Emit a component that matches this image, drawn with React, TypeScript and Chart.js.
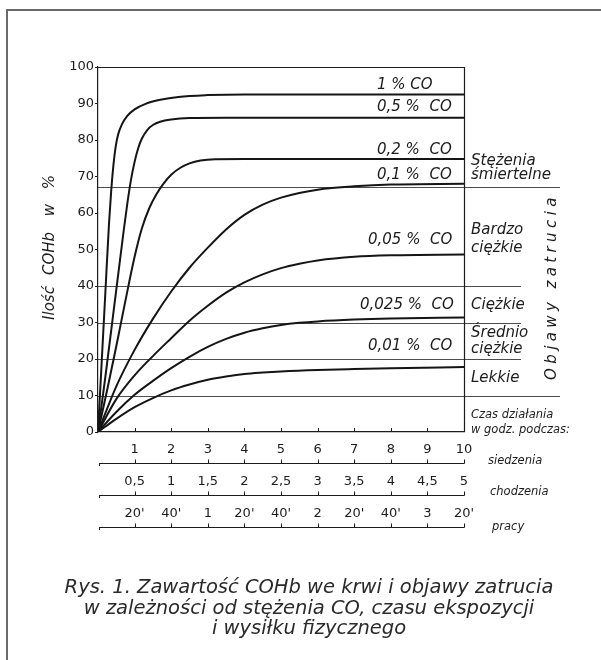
import React, { useEffect, useRef } from "react";
import { Chart, registerables } from "chart.js";

Chart.register(...registerables);

// ---------------- data ----------------
const hourTicks = [1, 2, 3, 4, 5, 6, 7, 8, 9, 10];
const sittingLabels = ["1", "2", "3", "4", "5", "6", "7", "8", "9", "10"];
const walkingLabels = ["0,5", "1", "1,5", "2", "2,5", "3", "3,5", "4", "4,5", "5"];
const workLabels = ["20'", "40'", "1", "20'", "40'", "2", "20'", "40'", "3", "20'"];
const rowNames = ["siedzenia", "chodzenia", "pracy"];
const yTickValues = [0, 10, 20, 30, 40, 50, 60, 70, 80, 90, 100];

const seriesLabels = ["1 % CO", "0,5 %  CO", "0,2 %  CO", "0,1 %  CO", "0,05 %  CO", "0,025 %  CO", "0,01 %  CO"];

const co1Hours = [0, 0.1, 0.2, 0.3, 0.36, 0.42, 0.48, 0.55, 0.65, 0.8, 1, 1.3, 1.7, 2.2, 3, 4, 10];
const co1Values = [0, 19, 38, 57, 66, 73, 78, 81.5, 84.2, 86.6, 88.4, 89.9, 91, 91.8, 92.3, 92.5, 92.5];

const co05Hours = [0, 0.2, 0.4, 0.6, 0.7, 0.8, 0.9, 1.0, 1.1, 1.2, 1.35, 1.5, 1.7, 2, 2.5, 3.5, 10];
const co05Values = [0, 15, 31, 47, 55, 62.5, 69, 74, 77.8, 80.4, 82.8, 84.1, 85, 85.6, 86, 86.1, 86.1];

const co02Hours = [0, 0.25, 0.5, 0.75, 1, 1.2, 1.4, 1.6, 1.8, 2, 2.25, 2.5, 2.8, 3.2, 4, 10];
const co02Values = [0, 11.5, 23.5, 36, 48, 55.8, 61.3, 65.2, 68.2, 70.5, 72.4, 73.6, 74.4, 74.75, 74.8, 74.8];

const co01Hours = [0, 0.5, 1, 1.5, 2, 2.5, 3, 3.5, 4, 4.5, 5, 5.5, 6, 7, 8, 10];
const co01Values = [0, 12.5, 22.5, 31, 38.5, 45, 50.5, 55.5, 59.5, 62.3, 64.2, 65.5, 66.4, 67.3, 67.8, 68];

const co005Hours = [0, 0.5, 1, 1.5, 2, 2.5, 3, 3.5, 4, 4.5, 5, 5.5, 6, 7, 8, 10];
const co005Values = [0, 9, 15.5, 20.8, 25.7, 30.5, 34.6, 38.2, 41, 43.2, 44.9, 46.1, 47, 48, 48.4, 48.6];

const co0025Hours = [0, 0.5, 1, 1.5, 2, 2.5, 3, 3.5, 4, 4.5, 5, 5.5, 6, 7, 8, 10];
const co0025Values = [0, 5.5, 10.2, 14, 17.5, 20.6, 23.3, 25.5, 27.2, 28.4, 29.3, 29.9, 30.3, 30.8, 31.1, 31.4];

const co001Hours = [0, 0.5, 1, 1.5, 2, 2.5, 3, 3.5, 4, 4.5, 5, 6, 7, 8, 10];
const co001Values = [0, 3.6, 6.8, 9.3, 11.4, 13, 14.3, 15.2, 15.9, 16.3, 16.6, 17, 17.25, 17.45, 17.8];

const zoneLevels = [67, 40, 30, 20, 10];
const zoneNames = [["Stężenia", "śmiertelne"], ["Bardzo", "ciężkie"], ["Ciężkie"], ["Średnio", "ciężkie"], ["Lekkie"]];

// ---------------- styling / layout ----------------
const FONT = "'DejaVu Sans', sans-serif";
const INK = "#1c1c1c";
const CURVE = "#151515";

const seriesHours = [co1Hours, co05Hours, co02Hours, co01Hours, co005Hours, co0025Hours, co001Hours];
const seriesValues = [co1Values, co05Values, co02Values, co01Values, co005Values, co0025Values, co001Values];

// label placement: left x in px, vertical position in axis units
const curveLabelPos = [[377, 95.1], [377, 89.1], [377, 77.3], [377, 70.4], [368, 52.6], [360, 34.8], [368, 23.4]];
const zoneTextPos = [[74.3, 70.4], [55.3, 50.3], [34.8], [27, 22.7], [14.7]];
const zoneLineExt = [96, 57, 57, 57, 96];
const rowLineY = [463, 495, 527];
const rowNamePos = [[488, 461], [490, 492], [492, 527]];

const overlay = {
  id: "overlay",
  beforeDatasetsDraw(chart: any) {
    const { ctx, chartArea: a, scales } = chart;
    const y = scales.y;
    ctx.save();
    ctx.strokeStyle = "#4d4d4d";
    ctx.lineWidth = 1;
    zoneLevels.forEach((lvl, i) => {
      const py = Math.round(y.getPixelForValue(lvl)) + 0.5;
      ctx.beginPath();
      ctx.moveTo(a.left, py);
      ctx.lineTo(a.right + zoneLineExt[i], py);
      ctx.stroke();
    });
    ctx.restore();
  },
  afterDraw(chart: any) {
    const { ctx, chartArea: a, scales } = chart;
    const x = scales.x;
    const y = scales.y;
    const seg = (x1: number, y1: number, x2: number, y2: number) => {
      ctx.beginPath();
      ctx.moveTo(x1, y1);
      ctx.lineTo(x2, y2);
      ctx.stroke();
    };
    ctx.save();
    // page frame
    ctx.strokeStyle = "#6a6a6a";
    ctx.lineWidth = 2;
    ctx.beginPath();
    ctx.moveTo(7, 660);
    ctx.lineTo(7, 10);
    ctx.lineTo(601, 10);
    ctx.stroke();

    // plot top & right border
    ctx.strokeStyle = INK;
    ctx.lineWidth = 1.2;
    ctx.beginPath();
    ctx.moveTo(a.left, a.top + 0.5);
    ctx.lineTo(a.right + 0.5, a.top + 0.5);
    ctx.lineTo(a.right + 0.5, a.bottom);
    ctx.stroke();

    // inward ticks on plot bottom
    ctx.lineWidth = 1;
    hourTicks.forEach((h) => {
      const px = Math.round(x.getPixelForValue(h)) + 0.5;
      seg(px, a.bottom, px, a.bottom - 4);
    });

    // lower time axes
    const rowTickLabels = [null, walkingLabels, workLabels];
    rowLineY.forEach((ly, r) => {
      ctx.strokeStyle = INK;
      ctx.lineWidth = 1.2;
      seg(a.left + 1, ly + 0.5, a.right + 0.5, ly + 0.5);
      ctx.lineWidth = 1;
      seg(a.left + 1.5, ly, a.left + 1.5, ly + 3);
      hourTicks.forEach((h) => {
        const px = Math.round(x.getPixelForValue(h)) + 0.5;
        seg(px, ly + 0.5, px, ly - 3.5);
      });
      const labels = rowTickLabels[r];
      if (labels) {
        ctx.fillStyle = INK;
        ctx.font = `13px ${FONT}`;
        ctx.textAlign = "center";
        ctx.textBaseline = "middle";
        hourTicks.forEach((h, i) => {
          ctx.fillText(labels[i], x.getPixelForValue(h), ly - 13);
        });
      }
      ctx.font = `italic 11.5px ${FONT}`;
      ctx.textAlign = "left";
      ctx.textBaseline = "middle";
      ctx.fillStyle = INK;
      ctx.fillText(rowNames[r], rowNamePos[r][0], rowNamePos[r][1]);
    });

    // curve labels
    ctx.fillStyle = INK;
    ctx.font = `italic 15px ${FONT}`;
    ctx.textAlign = "left";
    ctx.textBaseline = "middle";
    seriesLabels.forEach((t, i) => {
      ctx.fillText(t, curveLabelPos[i][0], y.getPixelForValue(curveLabelPos[i][1]));
    });

    // zone labels
    zoneNames.forEach((lines, i) => {
      lines.forEach((t, j) => {
        ctx.fillText(t, 471, y.getPixelForValue(zoneTextPos[i][j]));
      });
    });
    ctx.font = `italic 11.5px ${FONT}`;
    ctx.fillText("Czas działania", 471, 415);
    ctx.fillText("w godz. podczas:", 471, 430);

    // vertical "Objawy zatrucia"
    ctx.save();
    ctx.translate(552, 380);
    ctx.rotate(-Math.PI / 2);
    ctx.font = `italic 15px ${FONT}`;
    ctx.textAlign = "left";
    ctx.textBaseline = "middle";
    const word = "Objawy zatrucia";
    let cx = 0;
    for (const ch of word) {
      ctx.fillText(ch, cx, 0);
      cx += ctx.measureText(ch).width + 4.4;
    }
    ctx.restore();

    // y axis title
    ctx.save();
    ctx.font = `italic 15px ${FONT}`;
    ctx.textAlign = "center";
    ctx.textBaseline = "middle";
    const titleWords: [string, number][] = [["Ilość", 303], ["COHb", 253.5], ["w", 210], ["%", 182]];
    titleWords.forEach(([w, cy]) => {
      ctx.save();
      ctx.translate(50, cy);
      ctx.rotate(-Math.PI / 2);
      ctx.fillText(w, 0, 0);
      ctx.restore();
    });
    ctx.restore();

    ctx.restore();
  },
};

export default function App() {
  const ref = useRef<HTMLCanvasElement | null>(null);

  useEffect(() => {
    if (!ref.current) return;
    const datasets = seriesLabels.map((label, i) => ({
      label,
      data: seriesHours[i].map((h, k) => ({ x: h, y: seriesValues[i][k] })),
      borderColor: CURVE,
      borderWidth: 2,
      pointRadius: 0,
      fill: false,
      cubicInterpolationMode: "monotone" as const,
    }));
    const chart = new Chart(ref.current, {
      type: "line",
      data: { datasets },
      options: {
        animation: false,
        responsive: false,
        maintainAspectRatio: false,
        devicePixelRatio: 1,
        layout: { padding: { left: 58, top: 67, right: 137, bottom: 198 } },
        plugins: { legend: { display: false }, tooltip: { enabled: false } },
        scales: {
          x: {
            type: "linear",
            min: 0,
            max: 10,
            afterBuildTicks: (s: any) => {
              s.ticks = hourTicks.map((v) => ({ value: v }));
            },
            afterFit: (s: any) => {
              s.height = 30;
            },
            ticks: {
              autoSkip: false,
              maxRotation: 0,
              padding: 10,
              color: INK,
              font: { family: FONT, size: 13 },
              callback: (_v: any, i: number) => sittingLabels[i],
            },
            grid: { drawOnChartArea: false, drawTicks: false },
            border: { display: true, color: INK, width: 1.2 },
          },
          y: {
            type: "linear",
            min: 0,
            max: 100,
            afterBuildTicks: (s: any) => {
              s.ticks = yTickValues.map((v) => ({ value: v }));
            },
            afterFit: (s: any) => {
              s.width = 40;
            },
            ticks: {
              padding: 1,
              color: INK,
              font: { family: FONT, size: 13 },
            },
            grid: { drawOnChartArea: false, drawTicks: true, tickLength: 3, color: INK },
            border: { display: true, color: INK, width: 1.2 },
          },
        },
      },
      plugins: [overlay],
    });
    return () => chart.destroy();
  }, []);

  return (
    <div style={{ position: "absolute", left: 0, top: 0, width: 601, height: 660, background: "#fff", overflow: "hidden" }}>
      <canvas ref={ref} width={601} height={660} style={{ position: "absolute", left: 0, top: 0, width: 601, height: 660 }} />
      <div
        style={{
          position: "absolute",
          left: 18,
          width: 582,
          top: 577,
          textAlign: "center",
          fontFamily: FONT,
          fontStyle: "italic",
          fontSize: "19.5px",
          lineHeight: "20.5px",
          color: "#2a2a2a",
          whiteSpace: "nowrap",
        }}
      >
        Rys. 1. Zawartość COHb we krwi i objawy zatrucia
        <br />w zależności od stężenia CO, czasu ekspozycji
        <br />i wysiłku fizycznego
      </div>
    </div>
  );
}
